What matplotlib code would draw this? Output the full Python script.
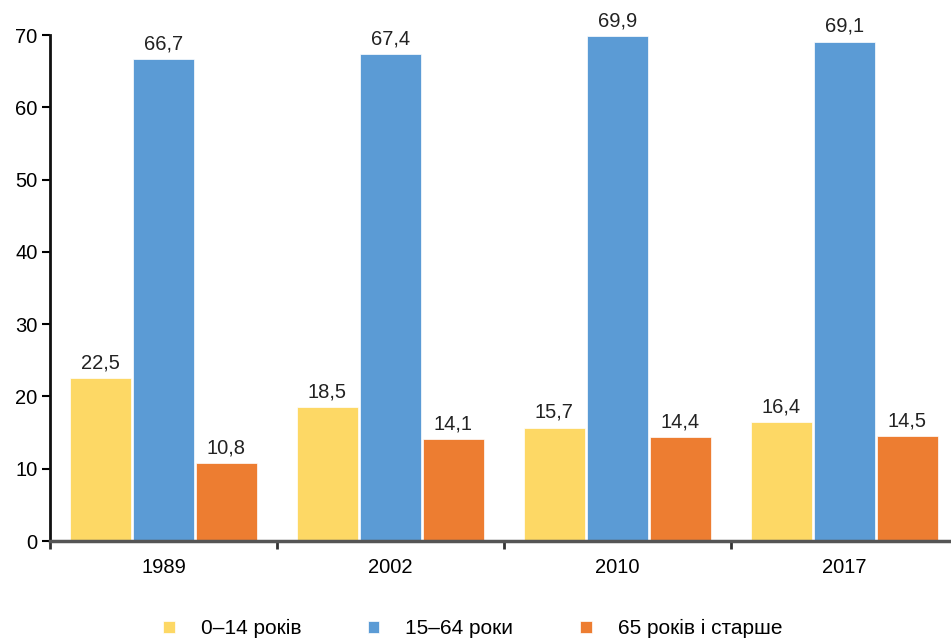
import matplotlib.pyplot as plt
import numpy as np

plt.rcParams['font.family'] = ['Liberation Sans', 'DejaVu Sans']

years = ['1989', '2002', '2010', '2017']
series = ['0–14 років', '15–64 роки', '65 років і старше']
young = [22.5, 18.5, 15.7, 16.4]
working = [66.7, 67.4, 69.9, 69.1]
old = [10.8, 14.1, 14.4, 14.5]
colors = ['#FDD865', '#5B9BD5', '#ED7D31']

fig = plt.figure(figsize=(9.51, 6.38), dpi=100)
ax = fig.add_axes([0.0526, 0.152, 0.9474, 0.793])

x = np.arange(len(years))
w = 0.268
step = 0.2775
for i, (vals, c, lab) in enumerate(zip([young, working, old], colors, series)):
    pos = x + (i - 1) * step
    ax.bar(pos, vals, width=w, color=c, label=lab, edgecolor='white', linewidth=0.5)
    for p, v in zip(pos, vals):
        ax.text(p, v + 0.8, f'{v:.1f}'.replace('.', ','), ha='center', va='bottom',
                fontsize=14.5, color='#222222')

ax.set_ylim(0, 70)
ax.set_xlim(-0.5, 3.47)
ax.set_yticks(range(0, 71, 10))
ax.tick_params(axis='y', labelsize=14.5, direction='out', length=6, width=1.5, pad=3)
ax.set_xticks(x)
ax.set_xticklabels(years, fontsize=14.5)
ax.tick_params(axis='x', length=0, pad=12)
ax.set_xticks([-0.5, 0.5, 1.5, 2.5], minor=True)
ax.tick_params(axis='x', which='minor', direction='out', length=6, width=2, color='#333333')

for s in ['top', 'right']:
    ax.spines[s].set_visible(False)
ax.spines['left'].set_linewidth(2)
ax.spines['left'].set_color('#111111')
ax.spines['bottom'].set_linewidth(2.5)
ax.spines['bottom'].set_color('#555555')

fig.legend(loc='lower center', bbox_to_anchor=(0.497, -0.03), ncol=3, frameon=False,
           fontsize=15, handlelength=0.55, handleheight=0.55, columnspacing=3.2,
           handletextpad=1.25)

fig.savefig('out.png', dpi=100)
